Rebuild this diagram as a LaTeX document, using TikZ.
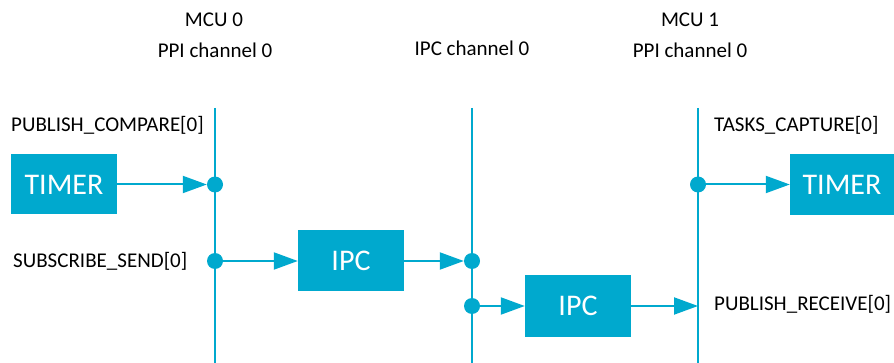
\documentclass[tikz,border=0pt]{standalone}
\usepackage{fontspec}
\setmainfont{Carlito}
\usetikzlibrary{arrows.meta}

\definecolor{nordic}{RGB}{0,169,206}
\tikzset{
  chan/.style={draw=nordic,line width=2.2pt},
  blk/.style={fill=nordic,text=white,minimum width=106pt,minimum height=61pt,
    inner sep=0pt,font=\fontsize{30}{34}\selectfont},
  dot/.style={circle,fill=nordic,minimum size=16pt,inner sep=0pt},
  lbl/.style={inner sep=0pt,font=\fontsize{21}{24}\selectfont},
  sig/.style={draw=nordic,line width=2pt,-{Triangle[length=24pt,width=17pt]}}
}

\begin{document}
\begin{tikzpicture}[x=1pt,y=-1pt]
\useasboundingbox (0,0) rectangle (894,363);
% channel headers
\node (h0a) [lbl] at (214,20) {MCU 0};
\node (h0b) [lbl] at (215,50) {PPI channel 0};
\node (hipc) [lbl] at (472,48) {IPC channel 0};
\node (h1a) [lbl] at (690,20) {MCU 1};
\node (h1b) [lbl] at (690,50) {PPI channel 0};
% channels
\draw[chan] (215,108) coordinate (c0) -- (215,363);
\draw[chan] (472,108) coordinate (c1) -- (472,363);
\draw[chan] (698,108) coordinate (c2) -- (698,363);
% blocks
\node (timer0) [blk,minimum height=60pt] at (64,184.5) {TIMER};
\node (ipc0)   [blk] at (351,261) {IPC};
\node (ipc1)   [blk] at (578,306) {IPC};
\node (timer1) [blk,minimum width=104pt] at (842,184.5) {TIMER};
% events and tasks
\node (d0a) [dot] at (215,184.5) {};
\node (d0b) [dot] at (215,261) {};
\node (d1a) [dot] at (472,261) {};
\node (d1b) [dot] at (472,306) {};
\node (d2a) [dot] at (698,184.5) {};
\coordinate (r2) at (698,306);
\draw[sig] (timer0) -- (d0a);
\draw[sig] (d0b) -- (ipc0);
\draw[sig] (ipc0) -- (d1a);
\draw[sig] (d1b) -- (ipc1);
\draw[sig] (ipc1) -- (r2);
\draw[sig] (d2a) -- (timer1);
% register names
\node (pc) [lbl,anchor=west] at (11,125) {PUBLISH\_COMPARE[0]};
\node (ss) [lbl,anchor=west] at (13,261) {SUBSCRIBE\_SEND[0]};
\node (tc) [lbl,anchor=west] at (714,125) {TASKS\_CAPTURE[0]};
\node (pr) [lbl,anchor=west] at (714,304) {PUBLISH\_RECEIVE[0]};
\end{tikzpicture}
\end{document}
